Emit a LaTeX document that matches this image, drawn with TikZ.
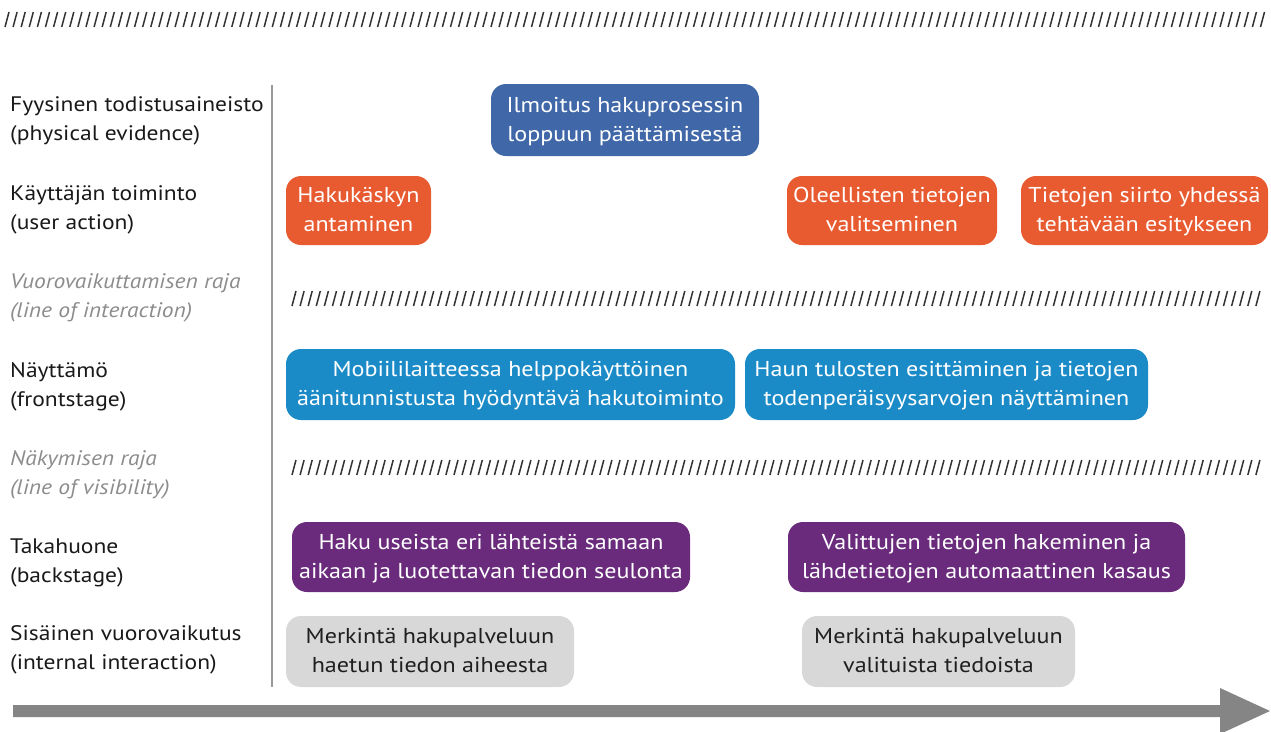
\documentclass[tikz,border=0pt]{standalone}
\usepackage{fontspec}
\setmainfont{PT Sans}[FakeStretch=1.12]
\begin{document}
\begin{tikzpicture}[x=1pt,y=-1pt,
  lbl/.style={anchor=west,align=left,inner sep=0pt,text=black!90,
    font=\fontsize{21}{29}\selectfont},
  limit/.style={lbl,text=black!45,font=\fontsize{21}{29}\selectfont\itshape},
  card/.style={rounded corners=15pt,align=center,inner sep=0pt,text=white,
    text depth=2pt,font=\fontsize{21.5}{29}\selectfont},
  evid/.style={card,fill=evidblue},
  act/.style={card,fill=actorange},
  front/.style={card,fill=frontblue},
  back/.style={card,fill=backpurple},
  intern/.style={card,fill=interngray,text=black!88},
  slash/.style={line width=1.5pt,black!80}]
\definecolor{evidblue}{HTML}{4067A8}
\definecolor{actorange}{HTML}{E85A30}
\definecolor{frontblue}{HTML}{1B8BC8}
\definecolor{backpurple}{HTML}{6A2B7C}
\definecolor{interngray}{HTML}{D8D8D8}
\definecolor{axisgray}{HTML}{858585}

\useasboundingbox (0,0) rectangle (1271,731);

% hatched separators
\foreach \i in {0,...,155} \draw[slash] ({5+\i*8.1},27) -- ({9+\i*8.1},12);
\foreach \i in {0,...,119} \draw[slash] ({292+\i*8.1},306) -- ({296+\i*8.1},291);
\foreach \i in {0,...,119} \draw[slash] ({292+\i*8.1},475) -- ({296+\i*8.1},460);

% row labels
\node[lbl] (l1) at (10,121) {Fyysinen todistusaineisto\\(physical evidence)};
\node[lbl] (l2) at (10,209.5) {Käyttäjän toiminto\\(user action)};
\node[limit] (l3) at (10,297.5) {Vuorovaikuttamisen raja\\(line of interaction)};
\node[lbl] (l4) at (10,386.5) {Näyttämö\\(frontstage)};
\node[limit] (l5) at (10,474.5) {Näkymisen raja\\(line of visibility)};
\node[lbl] (l6) at (10,562.5) {Takahuone\\(backstage)};
\node[lbl] (l7) at (10,650) {Sisäinen vuorovaikutus\\(internal interaction)};

% divider between labels and lanes
\coordinate (vtop) at (272,85);
\coordinate (vbot) at (272,687);
\draw[line width=2pt,black!40] (vtop) -- (vbot);

% lane cards
\node[evid,minimum width=268pt,minimum height=72pt] (b1) at (625,120)
  {Ilmoitus hakuprosessin\\loppuun päättämisestä};
\node[act,minimum width=145pt,minimum height=69pt] (b2) at (358.5,210.5)
  {Hakukäskyn\\antaminen};
\node[act,minimum width=210pt,minimum height=69pt] (b3) at (892,210.5)
  {Oleellisten tietojen\\valitseminen};
\node[act,minimum width=247pt,minimum height=69pt] (b4) at (1144.5,210.5)
  {Tietojen siirto yhdessä\\tehtävään esitykseen};
\node[front,minimum width=449pt,minimum height=71pt] (b5) at (510.5,384.5)
  {Mobiililaitteessa helppokäyttöinen\\äänitunnistusta hyödyntävä hakutoiminto};
\node[front,minimum width=403pt,minimum height=71pt] (b6) at (946.5,384.5)
  {Haun tulosten esittäminen ja tietojen\\todenperäisyysarvojen näyttäminen};
\node[back,minimum width=398pt,minimum height=70pt] (b7) at (491,557)
  {Haku useista eri lähteistä samaan\\aikaan ja luotettavan tiedon seulonta};
\node[back,minimum width=397pt,minimum height=70pt] (b8) at (986.5,557)
  {Valittujen tietojen hakeminen ja\\lähdetietojen automaattinen kasaus};
\node[intern,minimum width=288pt,minimum height=71pt] (b9) at (430,651.5)
  {Merkintä hakupalveluun\\haetun tiedon aiheesta};
\node[intern,minimum width=273pt,minimum height=71pt] (b10) at (938.5,651.5)
  {Merkintä hakupalveluun\\valituista tiedoista};

% time axis
\coordinate (t0) at (13,711);
\coordinate (tend) at (1270,711);
\fill[axisgray] (t0) ++(0,-6) -- (1220,705) -- (1220,688) -- (tend)
  -- (1220,734) -- (1220,717) -- (13,717) -- cycle;
\end{tikzpicture}
\end{document}
